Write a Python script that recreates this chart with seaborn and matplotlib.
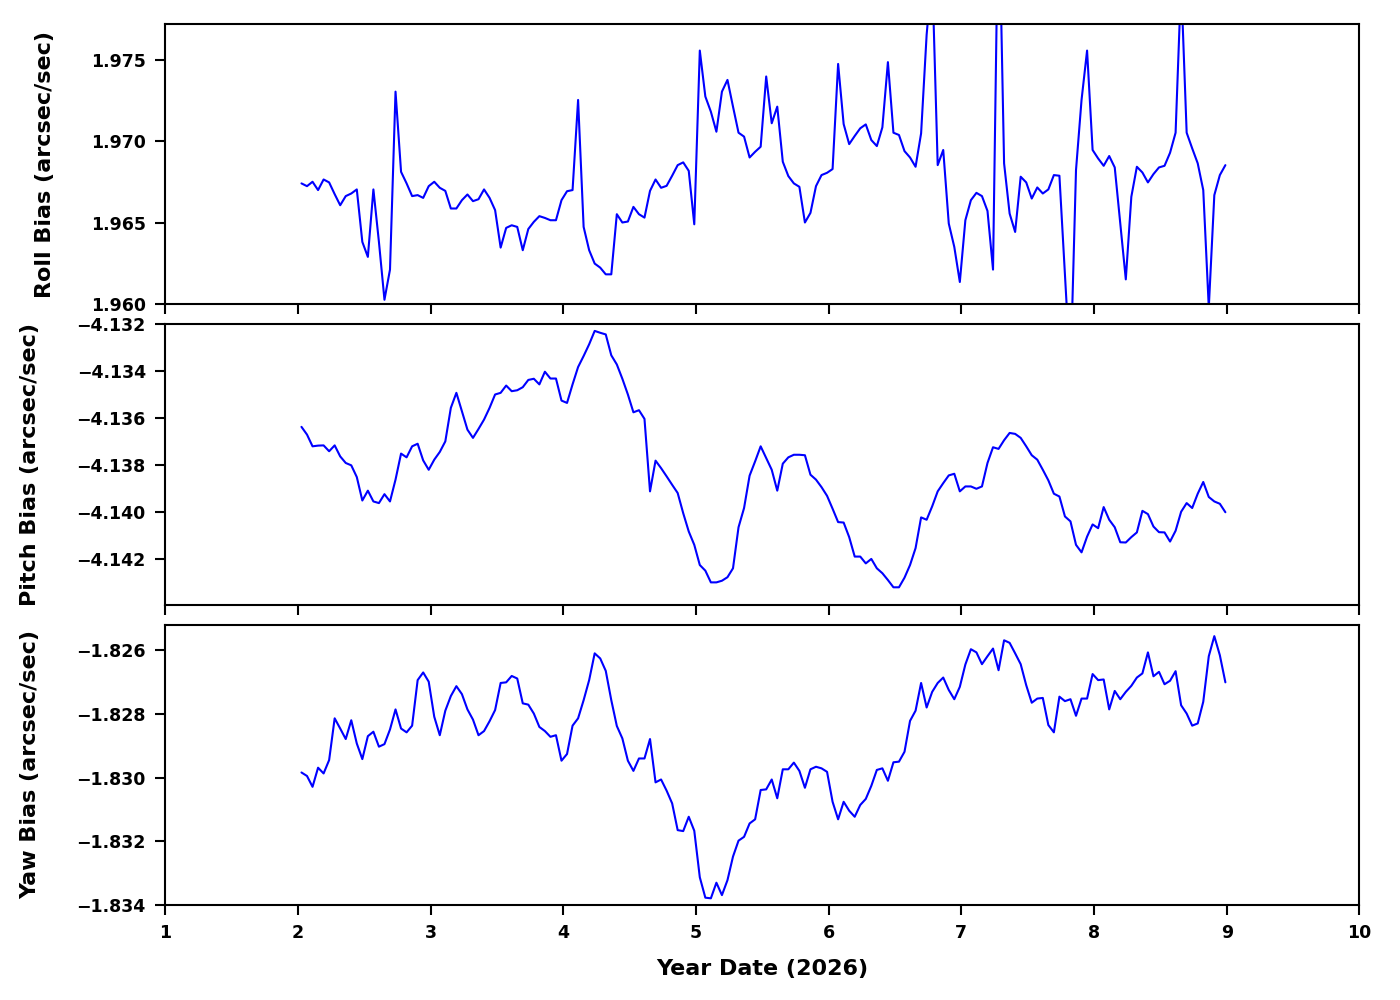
import numpy as np
import pandas as pd
import matplotlib
matplotlib.use("Agg")
import matplotlib.pyplot as plt
from matplotlib.ticker import FuncFormatter
import seaborn as sns

# hourly gyro bias samples, year date 2026
start_day = 2.027
end_day = 8.99

roll = [
    1.96742, 1.96725, 1.96752, 1.96701, 1.96766, 1.96748, 1.96676, 1.96608, 1.96664, 1.96680,
    1.96705, 1.96383, 1.96291, 1.96705, 1.96383, 1.96028, 1.96213, 1.97305, 1.96813, 1.96742,
    1.96664, 1.96670, 1.96653, 1.96725, 1.96752, 1.96715, 1.96696, 1.96588, 1.96588, 1.96639,
    1.96674, 1.96633, 1.96645, 1.96705, 1.96653, 1.96578, 1.96348, 1.96469, 1.96485, 1.96475,
    1.96332, 1.96462, 1.96506, 1.96541, 1.96530, 1.96516, 1.96516, 1.96639, 1.96694, 1.96701,
    1.97254, 1.96475, 1.96332, 1.96250, 1.96225, 1.96184, 1.96184, 1.96553, 1.96502, 1.96508,
    1.96598, 1.96553, 1.96532, 1.96696, 1.96766, 1.96715, 1.96727, 1.96789, 1.96854, 1.96871,
    1.96819, 1.96491, 1.97557, 1.97275, 1.97182, 1.97059, 1.97305, 1.97377, 1.97213, 1.97053,
    1.97029, 1.96901, 1.96936, 1.96967, 1.97398, 1.97111, 1.97213, 1.96875, 1.96787, 1.96742,
    1.96721, 1.96502, 1.96561, 1.96725, 1.96793, 1.96807, 1.96830, 1.97475, 1.97106, 1.96983,
    1.97033, 1.97080, 1.97104, 1.97008, 1.96971, 1.97086, 1.97486, 1.97053, 1.97039, 1.96940,
    1.96901, 1.96844, 1.97049, 1.97654, 1.98043, 1.96854, 1.96947, 1.96496, 1.96352, 1.96137,
    1.96516, 1.96639, 1.96684, 1.96664, 1.96573, 1.96213, 1.98582, 1.96865, 1.96557, 1.96444,
    1.96783, 1.96748, 1.96649, 1.96717, 1.96680, 1.96705, 1.96793, 1.96789, 1.96182, 1.95575,
    1.96824, 1.97254, 1.97557, 1.96947, 1.96895, 1.96850, 1.96910, 1.96840, 1.96496, 1.96153,
    1.96660, 1.96844, 1.96809, 1.96748, 1.96799, 1.96840, 1.96850, 1.96930, 1.97053, 1.97978,
    1.97053, 1.96957, 1.96865, 1.96701, 1.95980, 1.96670, 1.96793, 1.96854,
]

pitch = [
    -4.13637, -4.13670, -4.13720, -4.13717, -4.13716, -4.13741, -4.13716, -4.13763, -4.13791, -4.13801,
    -4.13851, -4.13951, -4.13909, -4.13955, -4.13962, -4.13924, -4.13955, -4.13862, -4.13751, -4.13767,
    -4.13720, -4.13709, -4.13780, -4.13820, -4.13777, -4.13744, -4.13699, -4.13556, -4.13492, -4.13570,
    -4.13649, -4.13684, -4.13646, -4.13606, -4.13556, -4.13499, -4.13492, -4.13461, -4.13485, -4.13481,
    -4.13468, -4.13437, -4.13432, -4.13456, -4.13402, -4.13431, -4.13431, -4.13525, -4.13535, -4.13456,
    -4.13382, -4.13335, -4.13285, -4.13228, -4.13236, -4.13243, -4.13332, -4.13371, -4.13432, -4.13499,
    -4.13575, -4.13566, -4.13603, -4.13912, -4.13781, -4.13813, -4.13848, -4.13884, -4.13919, -4.14005,
    -4.14083, -4.14140, -4.14226, -4.14250, -4.14300, -4.14300, -4.14293, -4.14278, -4.14240, -4.14065,
    -4.13983, -4.13845, -4.13784, -4.13720, -4.13770, -4.13820, -4.13909, -4.13794, -4.13767, -4.13756,
    -4.13756, -4.13758, -4.13841, -4.13862, -4.13894, -4.13931, -4.13986, -4.14043, -4.14045, -4.14107,
    -4.14190, -4.14190, -4.14219, -4.14200, -4.14240, -4.14261, -4.14290, -4.14321, -4.14321, -4.14280,
    -4.14226, -4.14154, -4.14023, -4.14033, -4.13976, -4.13912, -4.13877, -4.13844, -4.13837, -4.13912,
    -4.13891, -4.13891, -4.13901, -4.13891, -4.13791, -4.13724, -4.13731, -4.13694, -4.13663, -4.13667,
    -4.13684, -4.13720, -4.13758, -4.13777, -4.13820, -4.13865, -4.13922, -4.13934, -4.14019, -4.14040,
    -4.14140, -4.14172, -4.14105, -4.14053, -4.14069, -4.13979, -4.14033, -4.14065, -4.14129, -4.14130,
    -4.14107, -4.14087, -4.13995, -4.14009, -4.14062, -4.14086, -4.14087, -4.14126, -4.14080, -4.13999,
    -4.13962, -4.13983, -4.13922, -4.13872, -4.13936, -4.13955, -4.13965, -4.14001,
]

yaw = [
    -1.82984, -1.82995, -1.83029, -1.82969, -1.82987, -1.82945, -1.82814, -1.82846, -1.82879, -1.82820,
    -1.82893, -1.82942, -1.82870, -1.82856, -1.82903, -1.82895, -1.82849, -1.82786, -1.82846, -1.82858,
    -1.82837, -1.82694, -1.82670, -1.82699, -1.82809, -1.82867, -1.82790, -1.82744, -1.82713, -1.82738,
    -1.82786, -1.82818, -1.82867, -1.82854, -1.82823, -1.82788, -1.82703, -1.82701, -1.82681, -1.82689,
    -1.82767, -1.82771, -1.82799, -1.82841, -1.82854, -1.82872, -1.82867, -1.82947, -1.82926, -1.82837,
    -1.82814, -1.82757, -1.82694, -1.82610, -1.82626, -1.82665, -1.82757, -1.82838, -1.82877, -1.82947,
    -1.82979, -1.82940, -1.82940, -1.82879, -1.83015, -1.83006, -1.83041, -1.83081, -1.83165, -1.83168,
    -1.83123, -1.83167, -1.83313, -1.83377, -1.83379, -1.83330, -1.83369, -1.83322, -1.83248, -1.83198,
    -1.83186, -1.83144, -1.83131, -1.83039, -1.83037, -1.83006, -1.83065, -1.82974, -1.82974, -1.82953,
    -1.82979, -1.83032, -1.82974, -1.82966, -1.82971, -1.82982, -1.83076, -1.83131, -1.83076, -1.83104,
    -1.83123, -1.83086, -1.83067, -1.83026, -1.82976, -1.82971, -1.83010, -1.82952, -1.82950, -1.82919,
    -1.82822, -1.82790, -1.82703, -1.82780, -1.82731, -1.82703, -1.82686, -1.82725, -1.82754, -1.82715,
    -1.82645, -1.82597, -1.82607, -1.82644, -1.82619, -1.82595, -1.82663, -1.82569, -1.82577, -1.82610,
    -1.82644, -1.82710, -1.82765, -1.82752, -1.82750, -1.82835, -1.82858, -1.82746, -1.82760, -1.82754,
    -1.82806, -1.82752, -1.82752, -1.82675, -1.82694, -1.82692, -1.82786, -1.82728, -1.82754, -1.82731,
    -1.82712, -1.82686, -1.82673, -1.82607, -1.82682, -1.82668, -1.82707, -1.82696, -1.82666, -1.82773,
    -1.82799, -1.82837, -1.82830, -1.82762, -1.82619, -1.82556, -1.82616, -1.82701,
]

# axis settings
x_ticks = list(range(1, 11))
roll_ticks = [1.960, 1.965, 1.970, 1.975]
pitch_ticks = [-4.142, -4.140, -4.138, -4.136, -4.134, -4.132]
yaw_ticks = [-1.834, -1.832, -1.830, -1.828, -1.826]

days = np.linspace(start_day, end_day, len(roll))
data = pd.DataFrame({"day": days, "roll": roll, "pitch": pitch, "yaw": yaw})

sns.set_style("ticks")
plt.rcParams.update({
    "font.family": ["DejaVu Sans"],
    "font.weight": "bold",
    "axes.labelweight": "bold",
    "text.color": "black",
    "axes.labelcolor": "black",
    "axes.edgecolor": "black",
    "axes.linewidth": 1.5,
    "xtick.color": "black",
    "ytick.color": "black",
    "xtick.direction": "out",
    "ytick.direction": "out",
})

# three decimals with a true minus sign
fmt3 = FuncFormatter(lambda v, pos: f"{v:.3f}".replace("-", "\u2212"))

fig, axes = plt.subplots(3, 1, figsize=(14, 10), dpi=100, sharex=True)
fig.subplots_adjust(left=0.118, right=0.971, top=0.976, bottom=0.095, hspace=0.0714)

panels = [
    ("roll", "Roll Bias (arcsec/sec)", (1.960, 1.9772), roll_ticks),
    ("pitch", "Pitch Bias (arcsec/sec)", (-4.14395, -4.132), pitch_ticks),
    ("yaw", "Yaw Bias (arcsec/sec)", (-1.834, -1.8252), yaw_ticks),
]

for ax, (col, label, lims, ticks) in zip(axes, panels):
    sns.lineplot(data=data, x="day", y=col, ax=ax, color="blue", linewidth=1.5,
                 estimator=None, sort=False)
    ax.set_ylim(*lims)
    ax.set_yticks(ticks)
    ax.yaxis.set_major_formatter(fmt3)
    ax.set_ylabel(label, fontsize=16, labelpad=26)
    ax.set_xlabel("")
    ax.tick_params(labelsize=12.5, length=7, width=1.5, pad=7)
    for t in ax.get_yticklabels():
        t.set_fontweight("bold")

axes[-1].set_xlim(1, 10)
axes[-1].set_xticks(x_ticks)
axes[-1].set_xlabel("Year Date (2026)", fontsize=16, labelpad=12)
for t in axes[-1].get_xticklabels():
    t.set_fontweight("bold")

fig.savefig("out.png", dpi=100)
